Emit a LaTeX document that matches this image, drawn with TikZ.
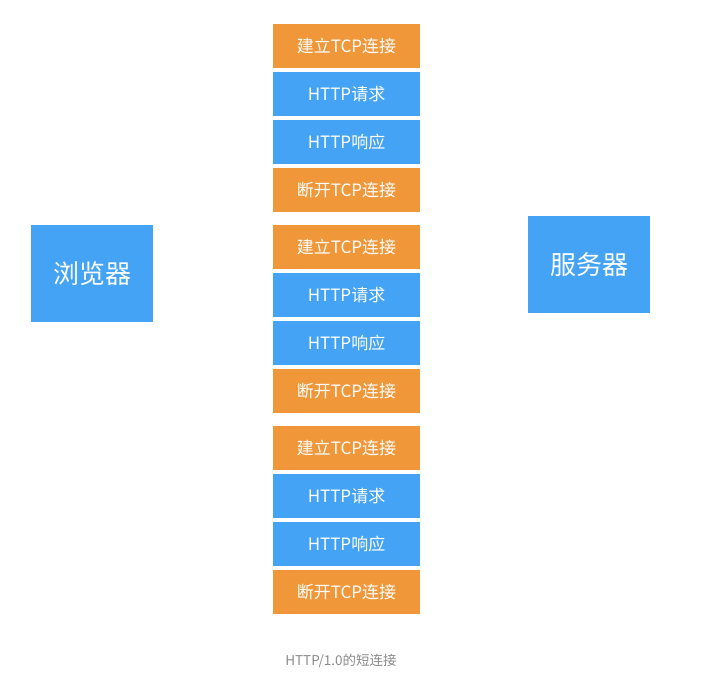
\documentclass[tikz,border=0pt]{standalone}
\usepackage{fontspec}
\setmainfont{Noto Sans CJK SC}
\newfontfamily\cjk{Noto Sans CJK SC}
\definecolor{boxorange}{HTML}{F0973A}
\definecolor{boxblue}{HTML}{44A3F4}
\definecolor{captiongray}{HTML}{8A8A8A}
\begin{document}
\begin{tikzpicture}[x=1pt,y=-1pt,
  stepbox/.style={minimum width=147pt,minimum height=44pt,inner sep=0pt,text=white,font=\cjk\fontsize{17}{20}\selectfont},
  orangebox/.style={stepbox,fill=boxorange},
  bluebox/.style={stepbox,fill=boxblue},
  endbox/.style={minimum width=122pt,minimum height=97pt,inner sep=0pt,fill=boxblue,text=white,font=\cjk\fontsize{26}{30}\selectfont}]
\useasboundingbox (0,0) rectangle (707,687);
\foreach \g/\y in {1/24,2/225,3/426}{
  \node[orangebox] (c\g) at (346.5,\y+22) {建立TCP连接};
  \node[bluebox] (q\g) at (346.5,\y+70) {HTTP请求};
  \node[bluebox] (r\g) at (346.5,\y+118) {HTTP响应};
  \node[orangebox] (d\g) at (346.5,\y+166) {断开TCP连接};
}
\node[endbox] (browser) at (92,273.5) {浏览器};
\node[endbox] (server) at (589,264.5) {服务器};
\node[text=captiongray,font=\cjk\fontsize{13.5}{16}\selectfont] (caption) at (341,661) {HTTP/1.0的短连接};
\end{tikzpicture}
\end{document}
